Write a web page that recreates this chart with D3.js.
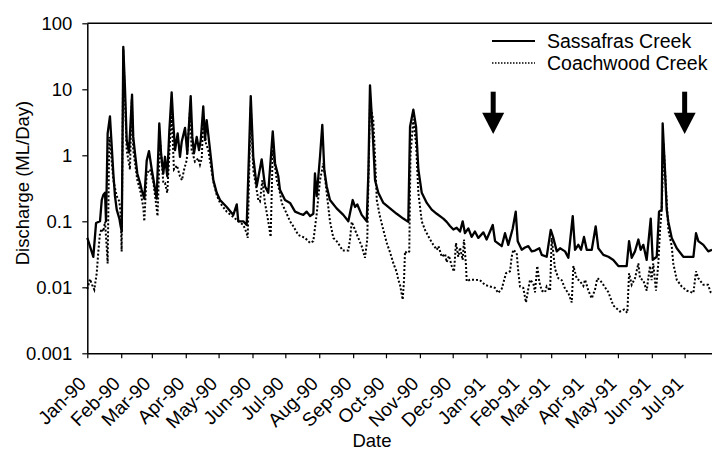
<!DOCTYPE html>
<html>
<head>
<meta charset="utf-8">
<script src="https://cdn.jsdelivr.net/npm/d3@7"></script>
<style>
  body { margin: 0; background: #fff; }
  svg text { font-family: "Liberation Sans", Arial, sans-serif; fill: #000; }
</style>
</head>
<body>
<div id="chart"></div>
<script>
// days since 1 Jan 1990 and discharge (ML/Day)
const sassDay = [0, 5.5, 8, 11.6, 13.2, 14.6, 16.2, 17.1, 18.6, 20.7, 22.9, 23.8, 25.3, 26.9, 29.3, 30.5, 31.5,
  32.9, 34.5, 36, 38.1, 40.9, 42, 43.6, 45.7, 48.2, 49.7, 52.1, 54.3, 56.4, 58.9, 61, 63.4, 65.8, 67.4, 69.5,
  71, 73.1, 75, 77.1, 78.6, 80.2, 82.6, 84.7, 86.3, 89.3, 91.4, 94.5, 96, 97.5, 100, 102.1, 103.7, 106, 107.6,
  109.1, 112.2, 115.2, 118.3, 121.3, 127.4, 133.5, 136.6, 138, 142.6, 145.7, 147.2, 149.4, 151.7, 154.8, 159.4,
  162.4, 165.4, 169.5, 171.6, 174.6, 176.1, 180.7, 185.3, 189.9, 194.4, 197.4, 200.5, 203.6, 206.6, 208.1, 209.7,
  212.7, 214.8, 216.6, 218.8, 221.8, 227.9, 234, 238.6, 242.6, 244.7, 246.8, 250.8, 255.4, 256.9, 258.4, 260.9,
  263, 266, 270.6, 276.7, 282.8, 288.8, 293.4, 295, 298, 300.5, 302.6, 305.7, 310.3, 314.8, 319.4, 325.4, 328.5,
  331.5, 334.6, 337.6, 340.7, 343.1, 345.2, 348.3, 351.3, 354.3, 357.4, 362, 365, 370.6, 372.7, 378.8, 381.8,
  384.8, 388.8, 391.6, 393.4, 397.1, 400.1, 403.1, 406.2, 409.2, 413.2, 415.4, 419.9, 423.6, 426, 429.1, 432.1,
  436.7, 439.7, 443.7, 445.8, 448.8, 451.3, 454, 456.5, 461.1, 464.7, 467.1, 471.7, 476.3, 480.8, 485.4, 493,
  495.2, 497.6, 500.6, 503.7, 505.8, 508.2, 511.3, 515, 516.8, 520.5, 522.6, 525, 525.9, 528, 529.6, 531.1,
  534.2, 538.8, 544.8, 554, 556.4, 558.5, 563.1, 567.6, 571];
const sassQ = [0.056, 0.029, 0.094, 0.1, 0.21, 0.25, 0.27, 0.1, 2.15, 3.9, 0.95, 0.53, 0.24, 0.15, 0.11, 0.084, 0.07,
  44, 9.8, 1.7, 1.1, 8.3, 1.9, 1.07, 0.53, 0.38, 0.3, 0.22, 0.83, 1.16, 0.61, 0.38, 0.22, 3.05, 1.07, 0.53,
  0.95, 0.48, 2.4, 9.0, 3.05, 1.2, 2.15, 0.95, 1.6, 2.6, 1.07, 7.9, 1.9, 1.07, 1.9, 1.2, 1.7, 5.5, 1.7,
  3.4, 1.2, 0.42, 0.27, 0.21, 0.165, 0.125, 0.18, 0.1, 0.1, 0.088, 0.53, 7.9, 0.95, 0.34, 0.87,
  0.34, 0.27, 2.3, 0.76, 0.48, 0.3, 0.21, 0.19, 0.14, 0.13, 0.125, 0.14, 0.12, 0.13, 0.53, 0.24,
  0.95, 2.9, 0.61, 0.34, 0.21, 0.157, 0.125, 0.1, 0.21, 0.165, 0.18, 0.125, 0.1, 0.53, 11.5, 2.15,
  0.42, 0.27, 0.19, 0.157, 0.13, 0.11, 0.098, 2.7, 4.9, 2.7, 0.61, 0.27, 0.19, 0.15, 0.13, 0.11, 0.098,
  0.085, 0.075, 0.08, 0.07, 0.1, 0.066, 0.078, 0.058, 0.07, 0.056, 0.068, 0.053, 0.088, 0.05, 0.042, 0.066,
  0.044, 0.077, 0.14, 0.05, 0.037, 0.04, 0.042, 0.035, 0.036, 0.039, 0.031, 0.029, 0.074, 0.056, 0.035, 0.039,
  0.035, 0.028, 0.12, 0.037, 0.044, 0.037, 0.058, 0.037, 0.037, 0.084, 0.039, 0.031, 0.029, 0.026, 0.021, 0.021,
  0.05, 0.028, 0.035, 0.053, 0.037, 0.044, 0.026, 0.11, 0.026, 0.029, 0.14, 0.15, 3.05, 0.61, 0.15, 0.098,
  0.056, 0.039, 0.029, 0.029, 0.066, 0.05, 0.044, 0.035, 0.037];

const coachDay = [0, 2.5, 4.3, 6.4, 8.6, 10.1, 11.6, 13.2, 14.6, 16.2, 17.7, 18.6, 19.2, 20.1, 21.4, 23.8, 26.9,
  29.3, 30.5, 31.4, 32.9, 36, 39, 40.6, 42, 45.7, 48.2, 51.2, 52.1, 54.3, 57.3, 60.3, 63.4, 64.2, 66.5, 69.5,
  71, 73.1, 75.6, 77.1, 79.2, 82, 84.7, 86.5, 88.4, 90.9, 93.9, 95.4, 98.4, 101.5, 103, 104.6, 106, 108.5,
  110.6, 115.2, 118.3, 121.3, 127.4, 135.1, 142.6, 145.7, 146.6, 149.4, 151.7, 154.8, 156.3, 157.8, 160, 162.4,
  165.4, 167.6, 169.5, 173.2, 176.1, 177.7, 182.3, 185.3, 188.3, 192.9, 199, 203.6, 206.6, 207.7, 209.7, 212.7,
  215.8, 218.8, 220.3, 221.8, 224.9, 227.9, 231, 233.4, 238.6, 240.1, 241.7, 244.7, 247.7, 250.8, 253.8, 255.9,
  258.4, 261.4, 263, 264.6, 267.4, 270.6, 273.7, 276.7, 279.8, 282.8, 284.3, 285.8, 288.3, 289.5, 290.4, 292.2,
  294.3, 295.4, 298, 300.5, 302.6, 305.7, 308.7, 313.3, 316.3, 319.4, 321, 324, 327, 328.5, 330.6, 333.1, 335.2,
  337, 339.1, 340.7, 343.1, 344.3, 346.1, 346.8, 349.8, 354.3, 358.9, 363.5, 368, 372.6, 375.6, 378.8, 382.7,
  386.4, 387.9, 389.4, 392.5, 393.9, 395.5, 398.5, 401, 403.1, 404.7, 407.7, 409.2, 411.3, 413.2, 415.4, 418.4,
  419.9, 423, 424.5, 427.5, 430.6, 433.6, 436.7, 439.7, 442.8, 444.3, 447.3, 450.4, 453.4, 455, 458, 461.1,
  464.1, 466.2, 468.7, 471.7, 476.3, 480.8, 486.9, 490.6, 493.6, 495.2, 497.6, 500.6, 503.7, 505.2, 508.2,
  511.3, 514.3, 515.8, 517.3, 519.8, 521.9, 523.5, 525, 526.7, 529, 531.1, 534.2, 535.6, 538.8, 543.3, 547.9,
  554, 556.4, 558.5, 563.1, 567.4, 569.8, 571];
const coachQ = [0.0094, 0.0133, 0.011, 0.0092, 0.0163, 0.035, 0.066, 0.077, 0.07, 0.098, 0.042, 0.023, 0.13, 1.9, 1.2, 0.42, 0.24,
  0.2, 0.13, 0.035, 40, 1.2, 0.61, 7, 1.2, 0.42, 0.3, 0.165, 0.1, 0.53, 0.61, 0.4, 0.157, 0.12, 1.7, 0.38,
  0.38, 0.27, 1.7, 4.3, 0.61, 0.7, 0.48, 0.42, 0.6, 0.85, 4.9, 1.2, 0.8, 0.9, 0.72, 0.9, 3.4, 1.5,
  1.2, 0.4, 0.25, 0.19, 0.14, 0.11, 0.088, 0.066, 0.056, 5.5, 0.6, 0.3, 0.21, 0.2, 0.42, 0.19,
  0.1, 0.058, 1.2, 0.42, 0.27, 0.19, 0.13, 0.1, 0.084, 0.062, 0.056, 0.047, 0.05, 0.07, 0.13, 0.42,
  0.76, 0.27, 0.165, 0.1, 0.056, 0.05, 0.042, 0.036, 0.036, 0.053, 0.098, 0.074, 0.056, 0.042, 0.028, 0.053,
  6.1, 3.4, 0.95, 0.21, 0.12, 0.074, 0.047, 0.034, 0.023, 0.017, 0.013, 0.011, 0.0065, 0.0128, 0.035, 0.033,
  0.035, 1, 3.5, 1.5, 0.27, 0.1, 0.074, 0.053, 0.044, 0.037, 0.042, 0.029, 0.032, 0.024, 0.03, 0.021, 0.0173,
  0.047, 0.029, 0.04, 0.026, 0.053, 0.022, 0.0123, 0.013, 0.013, 0.0128, 0.0109, 0.0103, 0.0098, 0.0082, 0.0095, 0.0163,
  0.0175, 0.029, 0.037, 0.033, 0.0175, 0.0103, 0.0098, 0.0059, 0.0095, 0.013, 0.0115, 0.0084, 0.021, 0.012, 0.0089, 0.0084,
  0.0103, 0.0089, 0.056, 0.019, 0.0137, 0.0128, 0.0095, 0.0082, 0.0059, 0.021, 0.0137, 0.0123, 0.0105, 0.013, 0.0089, 0.0068,
  0.0093, 0.0137, 0.0128, 0.0109, 0.0084, 0.0053, 0.0043, 0.0046, 0.0041, 0.0163, 0.0109, 0.0137, 0.023, 0.0137, 0.0128,
  0.0089, 0.021, 0.0128, 0.023, 0.0089, 0.023, 0.074, 0.15, 1.5, 0.3, 0.074, 0.042, 0.023, 0.013, 0.0103, 0.0089,
  0.0082, 0.0175, 0.0137, 0.0109, 0.0109, 0.0084, 0.008];

const seriesNames = ["Sassafras Creek", "Coachwood Creek"]
const yTicks = [0.001, 0.01, 0.1, 1, 10, 100]
const yTickLabels = ["0.001", "0.01", "0.1", "1", "10", "100"]
const arrowDates = ["1991-01-07", "1991-07-01"]
const arrowTop = 9.2, arrowTip = 2.1

const startDate = Date.UTC(1990, 0, 1)
const toDate = d => new Date(startDate + d * 864e5)

const sass = sassDay.map((d, i) => ({date: toDate(d), q: sassQ[i]}))
const coach = coachDay.map((d, i) => ({date: toDate(d), q: coachQ[i]}))

const width = 712, height = 451
const svg = d3.select("#chart").append("svg")
  .attr("width", width).attr("height", height)

const x = d3.scaleUtc()
  .domain([toDate(0), toDate(571)])
  .range([87.3, 712])
const y = d3.scaleLog()
  .domain([0.001, 100])
  .range([353.3, 23.3])

// frame top
svg.append("line")
  .attr("x1", x.range()[0]).attr("x2", x.range()[1])
  .attr("y1", y(100)).attr("y2", y(100))
  .attr("stroke", "#000").attr("stroke-width", 1.5)

// ====== axes ======
const xAxis = svg.append("g")
  .attr("transform", `translate(0,${y(0.001)})`)
  .call(d3.axisBottom(x)
    .ticks(d3.utcMonth.every(1))
    .tickSize(5)
    .tickSizeOuter(0)
    .tickFormat(d3.utcFormat("%b-%y")))
xAxis.select(".domain").attr("stroke-width", 1.5)
xAxis.selectAll(".tick line").attr("stroke-width", 1.2)
xAxis.selectAll(".tick text")
  .attr("font-size", 19)
  .attr("text-anchor", "end")
  .attr("transform", "translate(-10,22) rotate(-45)")
  .attr("x", 0).attr("y", 0).attr("dy", "0.7em")

const yAxis = svg.append("g")
  .attr("transform", `translate(${x.range()[0]},0)`)
  .call(d3.axisLeft(y)
    .tickValues(yTicks)
    .tickSize(5)
    .tickSizeOuter(0)
    .tickPadding(10)
    .tickFormat((d, i) => yTickLabels[i]))
yAxis.select(".domain").attr("stroke-width", 1.5)
yAxis.selectAll(".tick line").attr("stroke-width", 1.2)
yAxis.selectAll(".tick text").attr("font-size", 18.5)

svg.append("text")
  .attr("transform", "translate(29,183) rotate(-90)")
  .attr("text-anchor", "middle")
  .attr("font-size", 18.5)
  .text("Discharge (ML/Day)")

svg.append("text")
  .attr("x", 372).attr("y", 447)
  .attr("text-anchor", "middle")
  .attr("font-size", 18.5)
  .text("Date")

// ====== lines ======
const line = d3.line()
  .x(d => x(d.date))
  .y(d => y(d.q))

svg.append("path")
  .datum(coach)
  .attr("d", line)
  .attr("fill", "none")
  .attr("stroke", "#000")
  .attr("stroke-width", 2)
  .attr("stroke-dasharray", "2,2")

svg.append("path")
  .datum(sass)
  .attr("d", line)
  .attr("fill", "none")
  .attr("stroke", "#000")
  .attr("stroke-width", 2.3)
  .attr("stroke-linejoin", "round")

// ====== arrows ======
arrowDates.forEach(s => {
  const ax = x(new Date(s + "T00:00:00Z"))
  const top = y(arrowTop), tip = y(arrowTip)
  const headTop = top + (tip - top) * 0.5
  svg.append("rect")
    .attr("x", ax - 2.5).attr("y", top)
    .attr("width", 5).attr("height", headTop - top + 1)
    .attr("fill", "#000")
  svg.append("path")
    .attr("d", `M${ax - 11},${headTop} L${ax + 11},${headTop} L${ax},${tip} Z`)
    .attr("fill", "#000")
})

// ====== legend ======
const legend = svg.append("g").attr("transform", "translate(492,41)")
seriesNames.forEach((name, i) => {
  const g = legend.append("g").attr("transform", `translate(0,${i * 22})`)
  g.append("line")
    .attr("x1", 0).attr("x2", 43)
    .attr("stroke", "#000")
    .attr("stroke-width", i == 0 ? 2.2 : 1.5)
    .attr("stroke-dasharray", i == 0 ? null : "1.5,1.5")
  g.append("text")
    .attr("x", 55).attr("y", 7)
    .attr("font-size", 19.5)
    .text(name)
})
</script>
</body>
</html>
